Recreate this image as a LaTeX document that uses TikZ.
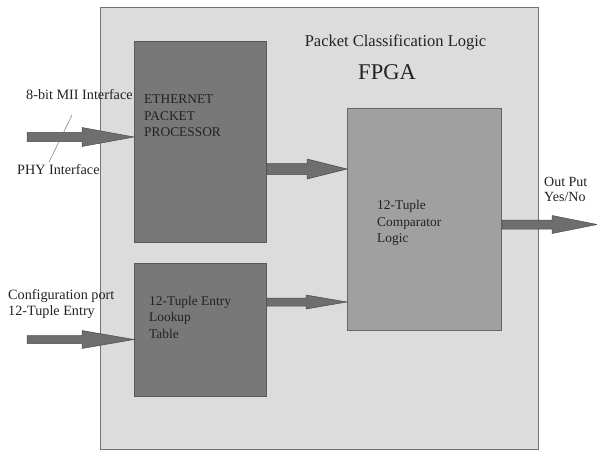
\documentclass[tikz,border=0pt]{standalone}
\usepackage{fontspec}
\setmainfont{Liberation Serif}
\usetikzlibrary{calc}
\definecolor{outerfill}{HTML}{DCDCDC}
\definecolor{darkfill}{HTML}{787878}
\definecolor{midfill}{HTML}{A0A0A0}
\definecolor{arrowfill}{HTML}{6E6E6E}
\definecolor{txt}{HTML}{222222}
\tikzset{
  outerbox/.style={draw=black!55, line width=1.4pt, fill=outerfill, anchor=north west, inner sep=0pt},
  darkbox/.style={draw=black!65, line width=0.8pt, fill=darkfill, anchor=north west, inner sep=0pt},
  midbox/.style={draw=black!60, line width=0.8pt, fill=midfill, anchor=north west, inner sep=0pt},
  arrowsty/.style={fill=arrowfill, draw=black!70, line width=0.5pt, line join=miter},
  boxlabel/.style={text=txt, font=\fontsize{13.4}{16.5}\selectfont, align=left, anchor=west, inner sep=0pt},
  outlabel/.style={text=txt, font=\fontsize{14.2}{16}\selectfont, align=left, anchor=west, inner sep=0pt},
}
\newcommand\bigarrow[5]{%
  \filldraw[arrowsty] ($(#1)+(0,-#3)$) -- ($(#2)+(-#5,-#3)$) -- ($(#2)+(-#5,-#4)$) -- (#2)
    -- ($(#2)+(-#5,#4)$) -- ($(#2)+(-#5,#3)$) -- ($(#1)+(0,#3)$) -- cycle;}
\begin{document}
\begin{tikzpicture}[x=1pt,y=-1pt]
\useasboundingbox (0,0) rectangle (597,450);
% boxes
\node[outerbox, minimum width=438pt, minimum height=442pt] (fpga) at (100,7) {};
\node[darkbox, minimum width=132pt, minimum height=201pt] (eth) at (134,41) {};
\node[darkbox, minimum width=132pt, minimum height=133pt] (look) at (134,263) {};
\node[midbox, minimum width=154pt, minimum height=222pt] (comp) at (347,108) {};
% titles
\node[text=txt, font=\fontsize{16.5}{18}\selectfont, inner sep=0pt] (pcl) at (395.5,42) {Packet Classification Logic};
\node[text=txt, font=\fontsize{22.5}{24}\selectfont, inner sep=0pt] (fpgat) at (387,72) {FPGA};
% box labels
\node[boxlabel] (ethl) at (144,116) {ETHERNET\\PACKET\\PROCESSOR};
\node[boxlabel] (lookl) at (149,317) {12-Tuple Entry\\Lookup\\Table};
\node[boxlabel] (compl) at (377,223) {12-Tuple\\Comparator\\Logic};
% outside labels
\node[outlabel] (mii) at (26,95) {8-bit MII Interface};
\node[outlabel] (phyl) at (17,170) {PHY Interface};
\node[outlabel] (cfgl) at (8,304.5) {Configuration port\\12-Tuple Entry};
\node[outlabel, font=\fontsize{14}{15}\selectfont] (outl) at (544,189.5) {Out Put\\Yes/No};
% arrows
\coordinate (phy) at (27,137);
\coordinate (phyend) at (eth.west |- phy);
\bigarrow{phy}{phyend}{4.7}{9.5}{52}
\coordinate (cfg) at (27,339.5);
\coordinate (cfgend) at (look.west |- cfg);
\bigarrow{cfg}{cfgend}{4}{9}{52}
\coordinate (a1s) at (eth.east |- 0,169);
\coordinate (a1e) at (comp.west |- 0,169);
\bigarrow{a1s}{a1e}{5.5}{10}{40}
\coordinate (a2s) at (look.east |- 0,302);
\coordinate (a2e) at (comp.west |- 0,302);
\bigarrow{a2s}{a2e}{4}{7}{41}
\coordinate (outs) at (comp.east |- 0,224.5);
\coordinate (oute) at (597,224.5);
\bigarrow{outs}{oute}{4.5}{9}{45}
% leader line
\coordinate (ld1) at (72,115);
\coordinate (ld2) at (49,162);
\draw[black!55, line width=0.5pt] (ld1) -- (ld2);
\end{tikzpicture}
\end{document}
